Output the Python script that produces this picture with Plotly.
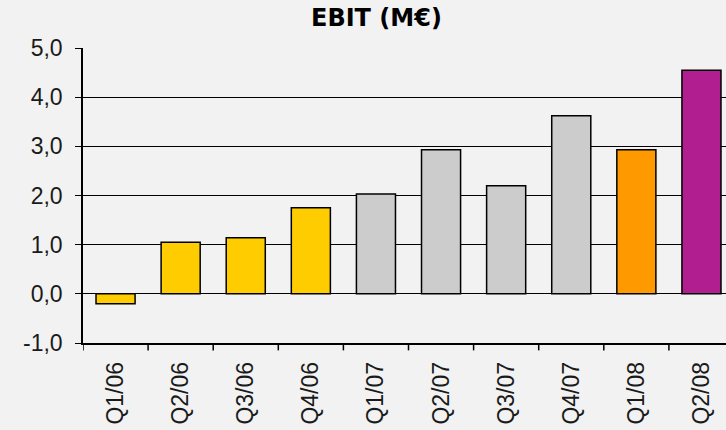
import plotly.graph_objects as go

quarters = ["Q1/06", "Q2/06", "Q3/06", "Q4/06", "Q1/07", "Q2/07", "Q3/07", "Q4/07", "Q1/08", "Q2/08"]
ebit = [-0.2, 1.05, 1.14, 1.75, 2.03, 2.93, 2.2, 3.62, 2.93, 4.55]
bar_colors = ["#FFCC00"] * 4 + ["#CCCCCC"] * 4 + ["#FF9900", "#B01E8F"]
ytick_vals = [-1, 0, 1, 2, 3, 4, 5]
ytick_text = ["-1,0", "0,0", "1,0", "2,0", "3,0", "4,0", "5,0"]

fig = go.Figure()
fig.add_trace(go.Bar(
    x=list(range(len(quarters))),
    y=ebit,
    width=0.6,
    marker=dict(color=bar_colors, line=dict(color="black", width=1.5)),
    showlegend=False,
))

fig.update_layout(
    width=726, height=430,
    margin=dict(l=83, r=0, t=48, b=87),
    paper_bgcolor="#F2F2F2", plot_bgcolor="#F2F2F2",
    font=dict(family="Liberation Sans", size=22, color="#1a1a1a"),
    xaxis=dict(
        tickmode="array", tickvals=list(range(len(quarters))), ticktext=quarters,
        range=[-0.5, 9.377], tickangle=-90, showgrid=False, zeroline=False,
        showline=True, linecolor="black", linewidth=1.5,
        ticks="", tickfont=dict(size=23), ticklabelstandoff=8,
    ),
    yaxis=dict(
        range=[-1, 5], tickmode="array", tickvals=ytick_vals, ticktext=ytick_text,
        showgrid=True, gridcolor="black", gridwidth=1,
        zeroline=True, zerolinecolor="black", zerolinewidth=1,
        showline=True, linecolor="black", linewidth=1.5,
        ticks="outside", ticklen=6, tickcolor="black", tickfont=dict(size=23),
        ticklabelstandoff=8,
    ),
    annotations=[dict(
        text="<b>EBIT (M€)</b>", x=0.457, y=1.0, xref="paper", yref="paper",
        xanchor="center", yanchor="bottom", yshift=14, showarrow=False,
        font=dict(size=24, family="DejaVu Sans", color="black"),
    )],
)

# category separator ticks on the x axis
for i in range(len(quarters)):
    fig.add_shape(type="line", xref="x", yref="paper", x0=i - 0.5, x1=i - 0.5,
                  y0=0, y1=-0.025, line=dict(color="black", width=1.5))

fig.write_html("out.html", config={"displayModeBar": False},
               post_script="document.body.style.margin='0';")
